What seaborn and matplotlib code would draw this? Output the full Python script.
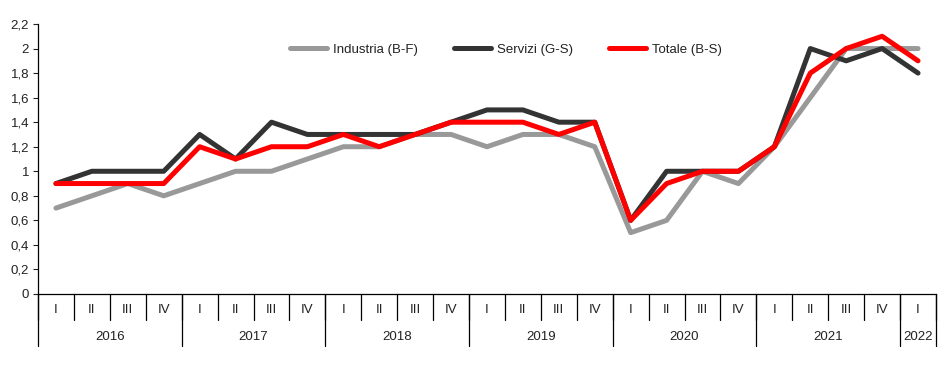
import numpy as np
import pandas as pd
import matplotlib
matplotlib.use("Agg")
import matplotlib.pyplot as plt
import seaborn as sns
from matplotlib.ticker import FuncFormatter

# Dati trimestrali 2016 I - 2022 I
anni = ['2016', '2017', '2018', '2019', '2020', '2021', '2022']
trimestri = ['I', 'II', 'III', 'IV'] * 6 + ['I']

industria = [0.7, 0.8, 0.9, 0.8, 0.9, 1.0, 1.0, 1.1, 1.2, 1.2, 1.3, 1.3,
             1.2, 1.3, 1.3, 1.2, 0.5, 0.6, 1.0, 0.9, 1.2, 1.6, 2.0, 2.0, 2.0]
servizi = [0.9, 1.0, 1.0, 1.0, 1.3, 1.1, 1.4, 1.3, 1.3, 1.3, 1.3, 1.4,
           1.5, 1.5, 1.4, 1.4, 0.6, 1.0, 1.0, 1.0, 1.2, 2.0, 1.9, 2.0, 1.8]
totale = [0.9, 0.9, 0.9, 0.9, 1.2, 1.1, 1.2, 1.2, 1.3, 1.2, 1.3, 1.4,
          1.4, 1.4, 1.3, 1.4, 0.6, 0.9, 1.0, 1.0, 1.2, 1.8, 2.0, 2.1, 1.9]

serie = ['Industria (B-F)', 'Servizi (G-S)', 'Totale (B-S)']
colori = ['#999999', '#333333', '#ff0000']

n = len(trimestri)
df = pd.DataFrame({
    'pos': list(range(n)) * 3,
    'valore': industria + servizi + totale,
    'serie': [s for s in serie for _ in range(n)],
})

sns.set_style('white')
plt.rcParams['font.family'] = ['Liberation Sans', 'DejaVu Sans']
fs = 9.5

fig = plt.figure(figsize=(9.51, 3.72), dpi=100)
ax = fig.add_axes([38 / 951, 1 - 294 / 372, (936 - 38) / 951, 270 / 372])

sns.lineplot(data=df, x='pos', y='valore', hue='serie', palette=colori,
             linewidth=3.6, ax=ax, legend=True, solid_capstyle='round')

ax.set_xlim(-0.5, n - 0.5)
ax.set_ylim(0, 2.2)
ax.set_yticks(np.arange(0, 2.21, 0.2))
ax.yaxis.set_major_formatter(FuncFormatter(lambda v, p: f"{v:.1f}".rstrip('0').rstrip('.').replace('.', ',')))
ax.set_xticks(range(n))
ax.set_xticklabels(trimestri, color='#222222')
ax.tick_params(axis='x', length=0, pad=7.5, labelsize=fs)
ax.tick_params(axis='y', length=3.5, width=0.8, direction='out', left=True,
               pad=3, labelsize=fs, colors='#222222')
ax.set_xlabel('')
ax.set_ylabel('')

for s in ['top', 'right']:
    ax.spines[s].set_visible(False)
for s in ['left', 'bottom']:
    ax.spines[s].set_color('black')
    ax.spines[s].set_linewidth(0.9)

# separatori trimestri e anni sotto l'asse
trans = ax.get_xaxis_transform()
for k in range(n + 1):
    ax.plot([k - 0.5, k - 0.5], [0, -26 / 270], color='black', lw=0.9,
            transform=trans, clip_on=False)
inizio = 0
for a in anni:
    lung = 4 if a != anni[-1] else 1
    ax.plot([inizio - 0.5, inizio - 0.5], [0, -52 / 270], color='black',
            lw=0.9, transform=trans, clip_on=False)
    ax.text(inizio + lung / 2 - 0.5, -43 / 270, a, ha='center', va='center',
            fontsize=fs, color='#222222', transform=trans)
    inizio += lung
ax.plot([n - 0.5, n - 0.5], [0, -52 / 270], color='black', lw=0.9,
        transform=trans, clip_on=False)

leg = ax.legend(loc='center', bbox_to_anchor=(0.521, 0.904), ncol=3,
                frameon=False, fontsize=fs, handlelength=2.8,
                handletextpad=0.45, columnspacing=2.75)
for t in leg.get_texts():
    t.set_color('#222222')
for h in leg.get_lines():
    h.set_solid_capstyle('round')

fig.savefig('out.png', dpi=100)
